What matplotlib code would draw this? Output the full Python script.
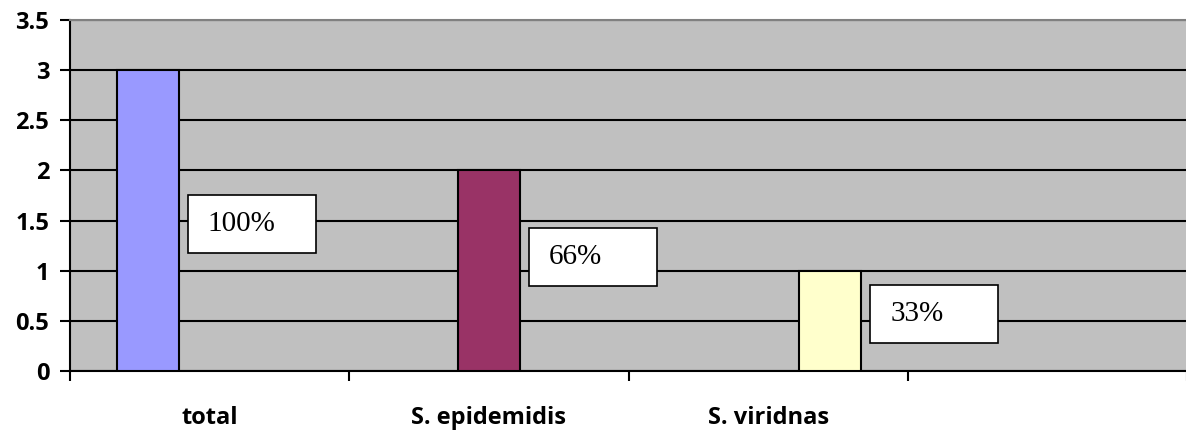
import matplotlib.pyplot as plt
from matplotlib.patches import Rectangle

categories = ['total', 'S. epidemidis', 'S. viridnas', '']
counts = [3, 2, 1]
percent_labels = ['100%', '66%', '33%']
bar_colors = ['#9999FF', '#993366', '#FFFFCC']

# vertical centre of each percentage box, in data units
label_centres = [1.47, 1.14, 0.57]

n_series = 3
bar_w = 1 / (n_series + 1.5)
gap = 0.75 * bar_w

fig = plt.figure(figsize=(11.86, 4.30), dpi=100)
ax = fig.add_axes([70 / 1186, 1 - 371 / 430, 1117 / 1186, 351 / 430])
ax.set_facecolor('#C0C0C0')
ax.set_xlim(0, len(categories))
ax.set_ylim(0, 3.5)

ax.set_yticks([0, 0.5, 1, 1.5, 2, 2.5, 3, 3.5])
ax.set_yticklabels(['0', '0.5', '1', '1.5', '2', '2.5', '3', '3.5'])
ax.yaxis.grid(True, color='black', linewidth=1.5)
ax.set_axisbelow(True)

for i, (val, color) in enumerate(zip(counts, bar_colors)):
    left = i + gap + i * bar_w
    ax.bar(left, val, width=bar_w, align='edge', color=color,
           edgecolor='black', linewidth=1.5, zorder=3)
    # white value box to the right of the bar
    box_w = 128 / 279.25
    box_h = 58 / 100.3
    bx = left + bar_w + 9 / 279.25
    by = label_centres[i] - box_h / 2
    ax.add_patch(Rectangle((bx, by), box_w, box_h, facecolor='white',
                           edgecolor='black', linewidth=1.2, zorder=4))
    ax.text(bx + 20 / 279.25, label_centres[i], percent_labels[i],
            ha='left', va='center', family='Liberation Serif',
            fontsize=21, zorder=5)

# category boundaries get the tick marks, centres get the labels
ax.set_xticks(range(len(categories) + 1))
ax.set_xticklabels([])
ax.set_xticks([i + 0.5 for i in range(len(categories))], minor=True)
ax.set_xticklabels(categories, minor=True, fontsize=17, fontweight='bold',
                   family='Open Sans')
ax.tick_params(axis='x', which='major', length=7, width=1.5, direction='out')
ax.tick_params(axis='x', which='minor', length=0, pad=25)
ax.tick_params(axis='y', length=7, width=1.5, pad=8, labelsize=17)
for lab in ax.get_yticklabels():
    lab.set_fontweight('bold')
    lab.set_family('Open Sans')

ax.spines['left'].set_linewidth(1.5)
ax.spines['bottom'].set_linewidth(1.5)
ax.spines['top'].set_color('#808080')
ax.spines['top'].set_linewidth(1.5)
ax.spines['right'].set_visible(False)

fig.savefig('out.png', dpi=100)
